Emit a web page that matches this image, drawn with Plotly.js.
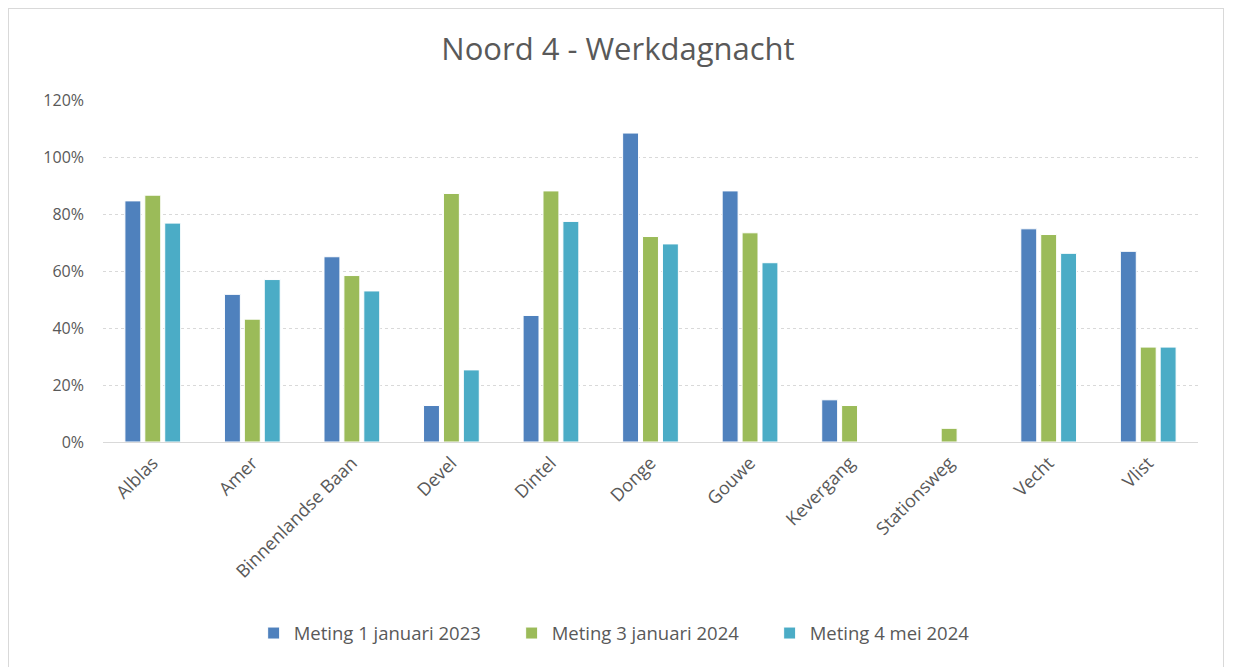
<!DOCTYPE html>
<html><head><meta charset="utf-8">
<script src="https://cdn.plot.ly/plotly-3.0.1.min.js"></script>
<style>html,body{margin:0;padding:0;background:#fff}#wrap{position:relative;width:1236px;height:667px}#chart{width:1236px;height:667px}#frame{position:absolute;left:8px;top:8px;width:1216px;height:660px;border:1px solid #d9d9d9;box-sizing:border-box;pointer-events:none}</style>
</head><body><div id="wrap"><div id="chart"></div><div id="frame"></div></div>
<script>
const categories = ["Alblas","Amer","Binnenlandse Baan","Devel","Dintel","Donge","Gouwe","Kevergang","Stationsweg","Vecht","Vlist"];
const seriesNames = ["Meting 1 januari 2023","Meting 3 januari 2024","Meting 4 mei 2024"];
const meting2023 = [84.6, 51.8, 65.0, 12.8, 44.4, 108.4, 88.1, 14.8, null, 74.8, 66.9];
const meting2024jan = [86.6, 43.1, 58.4, 87.2, 88.1, 72.1, 73.4, 12.8, 4.8, 72.8, 33.3];
const meting2024mei = [76.8, 57.0, 53.0, 25.3, 77.4, 69.5, 62.9, null, null, 66.2, 33.3];
const yTicks = [0, 20, 40, 60, 80, 100, 120];
const colors = ["#4f81bd", "#9bbb59", "#4bacc6"];
const allSeries = [meting2023, meting2024jan, meting2024mei];
const font = "'Open Sans', Lato, sans-serif";
const traces = allSeries.map((vals, i) => ({
  type: "bar", name: seriesNames[i], x: categories, y: vals,
  marker: {color: colors[i], line: {color: "#ffffff", width: 1}},
  hoverinfo: "x+y"
}));
const layout = {
  width: 1236, height: 667,
  margin: {l: 103, r: 38, t: 100, b: 225},
  paper_bgcolor: "#ffffff", plot_bgcolor: "#ffffff",
  title: {text: "Noord 4 - Werkdagnacht", font: {family: font, size: 31, color: "#595959"}, x: 0.5, xanchor: "center", y: 0.927, yanchor: "middle"},
  barmode: "group", bargap: 0.4, bargroupgap: 0.2,
  xaxis: {type: "category", tickangle: -45, tickfont: {family: font, size: 18, color: "#595959"}, showgrid: false, showline: false, ticks: "", automargin: false, ticklabelstandoff: 6},
  yaxis: {range: [0, 120], tickvals: yTicks, ticktext: yTicks.map(v => v + "%"), tickfont: {family: font, size: 16, color: "#595959"}, showgrid: true, gridcolor: "#d9d9d9", griddash: "dot", gridwidth: 1, zeroline: true, zerolinecolor: "#d9d9d9", zerolinewidth: 1, showline: false, ticks: "", automargin: false, ticklabelstandoff: 18},
  legend: {orientation: "h", x: 0.491, xanchor: "center", y: -0.56, yanchor: "middle", font: {family: font, size: 18.5, color: "#595959"}, itemwidth: 30, traceorder: "normal", entrywidth: 213, entrywidthmode: "pixels"},
  showlegend: true
};
Plotly.newPlot("chart", traces, layout, {displayModeBar: false, staticPlot: true});
</script></body></html>
